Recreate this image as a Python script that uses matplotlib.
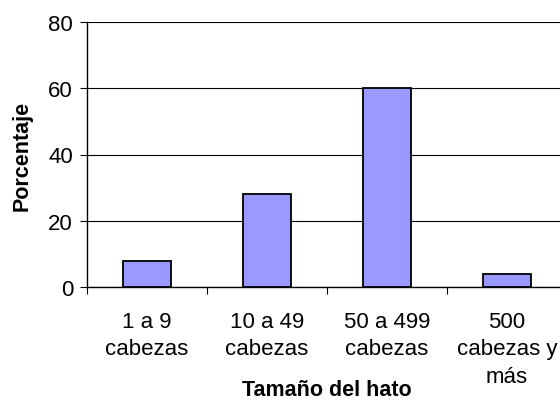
import matplotlib.pyplot as plt
import numpy as np

# data
categorias = ['1 a 9\ncabezas', '10 a 49\ncabezas', '50 a 499\ncabezas', '500\ncabezas y\nmás']
porcentaje = [8, 28, 60, 4]
yticks = [0, 20, 40, 60, 80]

plt.rcParams['font.family'] = ['Liberation Sans', 'DejaVu Sans']

fig = plt.figure(figsize=(5.6, 4.02), dpi=100)
# plot area runs past the right edge like in the original
ax = fig.add_axes([87/560, 1 - 288/402, 480/560, 265/402])

x = np.arange(len(categorias))
ax.bar(x, porcentaje, width=0.4, color='#9999FF', edgecolor='black', linewidth=1.3, zorder=3)

ax.set_xlim(-0.5, len(categorias) - 0.5)
ax.set_ylim(0, 80)
ax.set_yticks(yticks)
ax.yaxis.grid(True, color='black', linewidth=0.8, zorder=0)

# category labels in the middle, small ticks on the boundaries
ax.set_xticks(x)
ax.set_xticklabels(categorias, fontsize=16, linespacing=1.42)
ax.set_xticks(np.arange(len(categorias) + 1) - 0.5, minor=True)
ax.tick_params(axis='x', which='major', length=0, pad=17)
ax.tick_params(axis='x', which='minor', length=5, width=0.8, direction='out')
ax.tick_params(axis='y', length=5, width=0.8, direction='out', labelsize=16, pad=5)

for s in ['top', 'right']:
    ax.spines[s].set_visible(False)
for s in ['left', 'bottom']:
    ax.spines[s].set_linewidth(1)

ax.set_ylabel('Porcentaje', fontsize=15.5, fontweight='bold', va='center')
ax.yaxis.set_label_coords(-0.135, 0.5)
ax.set_xlabel('Tamaño del hato', fontsize=15.5, fontweight='bold', va='baseline')
ax.xaxis.set_label_coords(0.5, -0.408)

fig.savefig('out.png', dpi=100)
